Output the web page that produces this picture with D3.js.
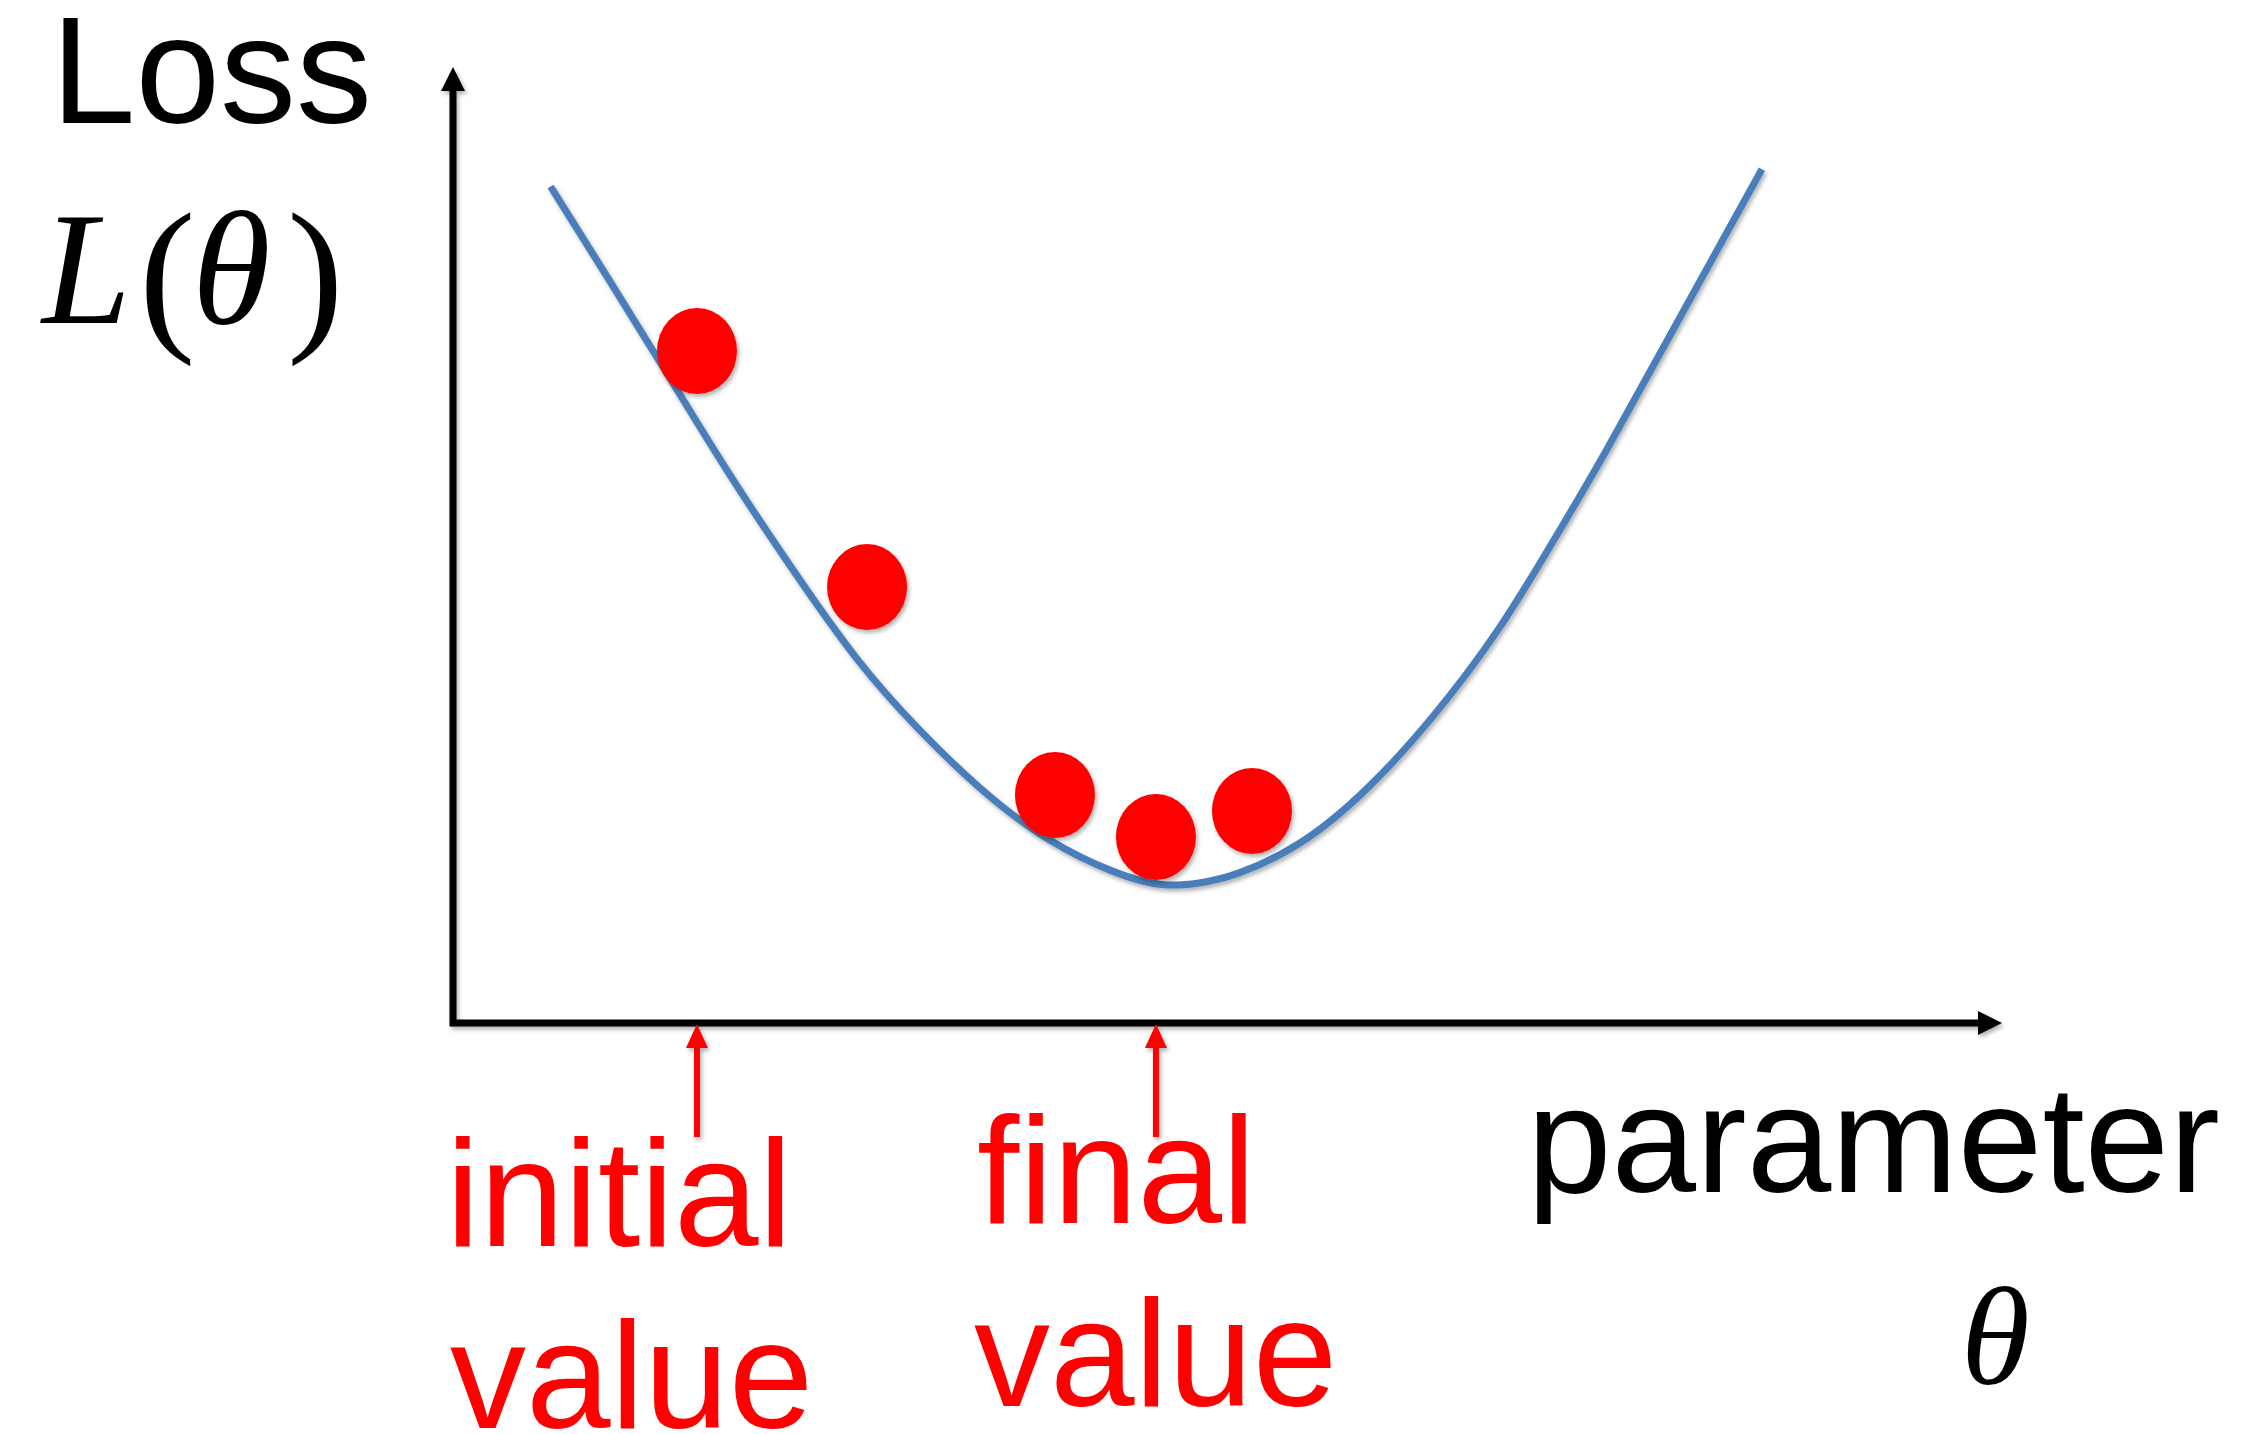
<!DOCTYPE html>
<html>
<head>
<meta charset="utf-8">
<script src="https://cdn.jsdelivr.net/npm/d3@7"></script>
<style>
  html, body { margin: 0; padding: 0; background: #ffffff; }
  svg { display: block; }
</style>
</head>
<body>
<svg id="chart" width="2265" height="1434"></svg>
<script>
// ---- Data (theta / loss in arbitrary units 0..10) ----
const curveTheta = [0.63, 0.99, 1.37, 1.77, 2.20, 2.61, 3.00, 3.42, 3.85, 4.29, 4.58, 4.82, 5.04, 5.47, 5.90, 6.33, 6.76, 7.08, 7.41, 7.94, 8.45];
const curveLoss  = [8.75, 7.82, 6.83, 5.76, 4.72, 3.77, 3.07, 2.41, 1.88, 1.55, 1.42, 1.46, 1.53, 1.84, 2.42, 3.19, 4.11, 4.98, 5.87, 7.44, 8.93];

const stepTheta = [1.575, 2.673, 3.886, 4.538, 5.158];
const stepLoss  = [7.03, 4.56, 2.385, 1.946, 2.218];

const markerIndex = [0, 3];                 // initial value, final value
const markerLines = [["initial", "value"], ["final", "value"]];
const yTitle = "Loss";
const xTitle = "parameter";

// ---- Scales ----
const svg = d3.select("#chart");
const x = d3.scaleLinear().domain([0, 10]).range([453, 2002]);
const y = d3.scaleLinear().domain([0, 10]).range([1023, 67]);

const defs = svg.append("defs");
const f = defs.append("filter").attr("id", "shadow")
  .attr("x", "-20%").attr("y", "-20%").attr("width", "140%").attr("height", "140%");
f.append("feDropShadow").attr("dx", 2).attr("dy", 3).attr("stdDeviation", 2)
  .attr("flood-color", "#000").attr("flood-opacity", 0.3);

const BLACK = "#000000", BLUE = "#4a7ebb", RED = "#ff0000";
const head = 24, half = 12;

// ---- Axes (arrows) ----
const x0 = x(0), y0 = y(0), xEnd = x.range()[1], yEnd = y.range()[1];
const ax = svg.append("g").attr("filter", "url(#shadow)");
ax.append("path")
  .attr("d", `M${x0},${yEnd + head - 1} L${x0},${y0} L${xEnd - head + 1},${y0}`)
  .attr("fill", "none").attr("stroke", BLACK).attr("stroke-width", 7)
  .attr("stroke-linejoin", "miter").attr("stroke-linecap", "square");
ax.append("path")
  .attr("d", `M${x0},${yEnd} L${x0 - half},${yEnd + head} L${x0 + half},${yEnd + head} Z`)
  .attr("fill", BLACK);
ax.append("path")
  .attr("d", `M${xEnd},${y0} L${xEnd - head},${y0 - half} L${xEnd - head},${y0 + half} Z`)
  .attr("fill", BLACK);

// ---- Loss curve ----
const curveData = curveTheta.map((t, i) => ({t, l: curveLoss[i]}));
svg.append("path")
  .datum(curveData)
  .attr("d", d3.line().x(d => x(d.t)).y(d => y(d.l)).curve(d3.curveBasis))
  .attr("fill", "none").attr("stroke", BLUE).attr("stroke-width", 7)
  .attr("filter", "url(#shadow)");

// ---- Gradient-descent steps ----
const steps = stepTheta.map((t, i) => ({t, l: stepLoss[i]}));
svg.append("g").selectAll("ellipse").data(steps).join("ellipse")
  .attr("cx", d => x(d.t)).attr("cy", d => y(d.l))
  .attr("rx", 40).attr("ry", 43)
  .attr("fill", RED).attr("filter", "url(#shadow)");

// ---- Red marker arrows under the x axis ----
const mk = svg.append("g").attr("filter", "url(#shadow)");
markerIndex.forEach(i => {
  const mx = x(stepTheta[i]);
  mk.append("line")
    .attr("x1", mx).attr("x2", mx).attr("y1", y0 + 20).attr("y2", y0 + 114)
    .attr("stroke", RED).attr("stroke-width", 6);
  mk.append("path")
    .attr("d", `M${mx},${y0 + 1} L${mx - 11},${y0 + 25} L${mx + 11},${y0 + 25} Z`)
    .attr("fill", RED);
});

// ---- Texts ----
const sans = "'Liberation Sans', Arial, Helvetica, sans-serif";
const serif = "'Liberation Serif', 'Times New Roman', serif";

svg.append("text").attr("x", 51).attr("y", 123)
  .attr("font-family", sans).attr("font-size", 152).attr("fill", BLACK).text(yTitle);

const lt = svg.append("text").attr("y", 323)
  .attr("font-family", serif).attr("font-size", 160).attr("fill", BLACK);
lt.append("tspan").attr("x", 42).attr("font-style", "italic").text("L");
lt.append("tspan").attr("x", 139).attr("y", 330).attr("font-size", 170).text("(");
lt.append("tspan").attr("x", 192).attr("y", 323).attr("font-style", "italic").text("θ");
lt.append("tspan").attr("x", 287).attr("y", 330).attr("font-size", 170).text(")");

const markerTextX = [446, 977];
const markerTextY = [[1246, 1428], [1223, 1406]];
markerLines.forEach((lines, k) => {
  lines.forEach((s, j) => {
    svg.append("text")
      .attr("x", markerTextX[k] + (j === 1 ? (k === 0 ? 4 : -3) : 0))
      .attr("y", markerTextY[k][j])
      .attr("font-family", sans).attr("font-size", 152).attr("fill", RED).text(s);
  });
});

svg.append("text").attr("x", 1527).attr("y", 1192)
  .attr("font-family", sans).attr("font-size", 152).attr("fill", BLACK).text(xTitle);
svg.append("text").attr("x", 1961).attr("y", 1384)
  .attr("font-family", serif).attr("font-style", "italic").attr("font-size", 140)
  .attr("fill", BLACK).text("θ");
</script>
</body>
</html>
